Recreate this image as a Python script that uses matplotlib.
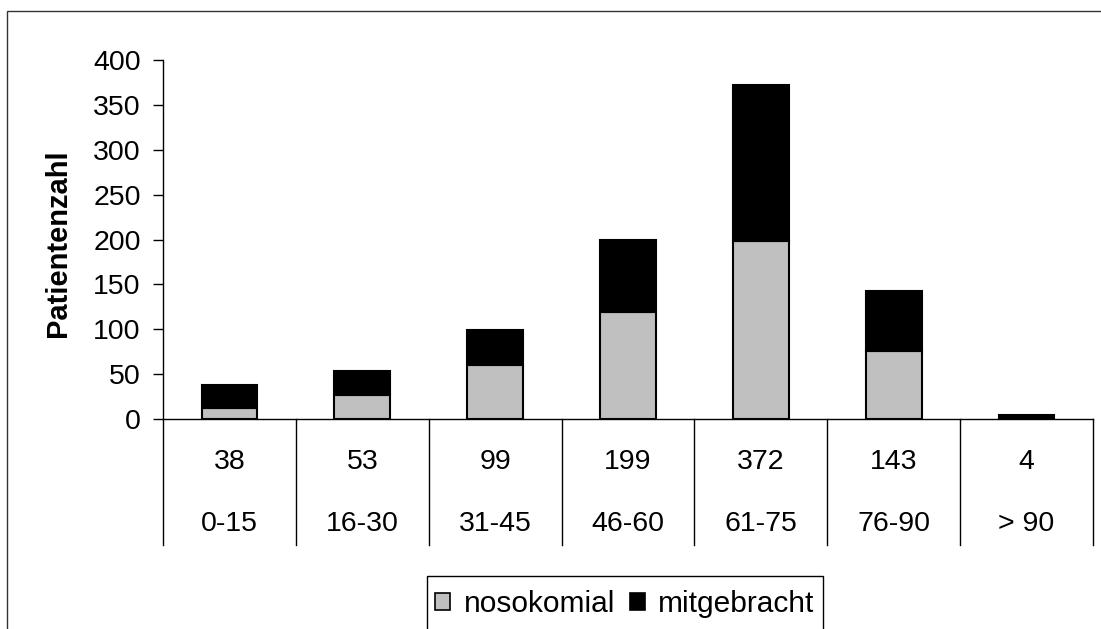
import matplotlib
matplotlib.use("Agg")
import matplotlib.pyplot as plt
from matplotlib.patches import Patch, Rectangle

plt.rcParams['font.family'] = ['Liberation Sans', 'DejaVu Sans']

categories = ["0-15", "16-30", "31-45", "46-60", "61-75", "76-90", "> 90"]
totals = [38, 53, 99, 199, 372, 143, 4]
nosokomial = [12, 27, 60, 119, 198, 76, 0]
mitgebracht = [t - n for t, n in zip(totals, nosokomial)]
yticks = [0, 50, 100, 150, 200, 250, 300, 350, 400]

W, H = 1101, 629
fig = plt.figure(figsize=(W / 100, H / 100), dpi=100)

def fx(px):
    return px / W

def fy(py):
    return 1 - py / H

ax = fig.add_axes([fx(163), fy(419), (1093 - 163) / W, (419 - 60) / H])
x = list(range(len(categories)))
bw = 0.42
ax.bar(x, nosokomial, width=bw, color='#C0C0C0', edgecolor='black', linewidth=1.5, label='nosokomial')
ax.bar(x, mitgebracht, width=bw, bottom=nosokomial, color='black', edgecolor='black', linewidth=1.5, label='mitgebracht')
ax.set_xlim(-0.5, len(categories) - 0.5)
ax.set_ylim(0, 400)
ax.set_yticks(yticks)
ax.tick_params(axis='y', direction='out', length=7, width=1, labelsize=20.5, pad=9)
ax.set_xticks([])
for s in ax.spines.values():
    s.set_visible(False)

px_per_unit = (419 - 60) / 400.0
row1 = -(462 - 419) / px_per_unit
row2 = -(524 - 419) / px_per_unit
bottom = -(545 - 419) / px_per_unit

# y axis line
ax.plot([-0.5, -0.5], [400, bottom], color='black', lw=1, clip_on=False)
# x axis line
ax.plot([-0.5, len(categories) - 0.5], [0, 0], color='black', lw=1, clip_on=False)
# table separators
for i in range(1, len(categories) + 1):
    ax.plot([i - 0.5, i - 0.5], [0, bottom], color='black', lw=1, clip_on=False)
for i, (t, c) in enumerate(zip(totals, categories)):
    ax.text(i, row1, str(t), ha='center', va='center', fontsize=20.5, clip_on=False)
    ax.text(i, row2, c, ha='center', va='center', fontsize=20.5, clip_on=False)

fig.text(fx(58), fy(243), 'Patientenzahl', rotation=90, ha='center', va='center',
         fontsize=21, fontweight='bold')

# outer frame
fig.add_artist(Rectangle((fx(7), fy(700)), fx(1110) - fx(7), fy(11) - fy(700),
                         transform=fig.transFigure, fill=False, edgecolor='#333333', lw=1))
# legend box
fig.add_artist(Rectangle((fx(427), fy(700)), fx(823) - fx(427), fy(576) - fy(700),
                         transform=fig.transFigure, fill=False, edgecolor='black', lw=1))
handles = [Patch(facecolor='#C0C0C0', edgecolor='black', lw=1.2),
           Patch(facecolor='black', edgecolor='black', lw=1.2)]
fig.legend(handles, ['nosokomial', 'mitgebracht'], loc='center', bbox_to_anchor=(fx(625), fy(604)),
           ncol=2, frameon=False, fontsize=21.5, handlelength=0.5, handleheight=0.5,
           handletextpad=0.45, columnspacing=0.5, borderpad=0)

fig.savefig('out.png', dpi=100)
